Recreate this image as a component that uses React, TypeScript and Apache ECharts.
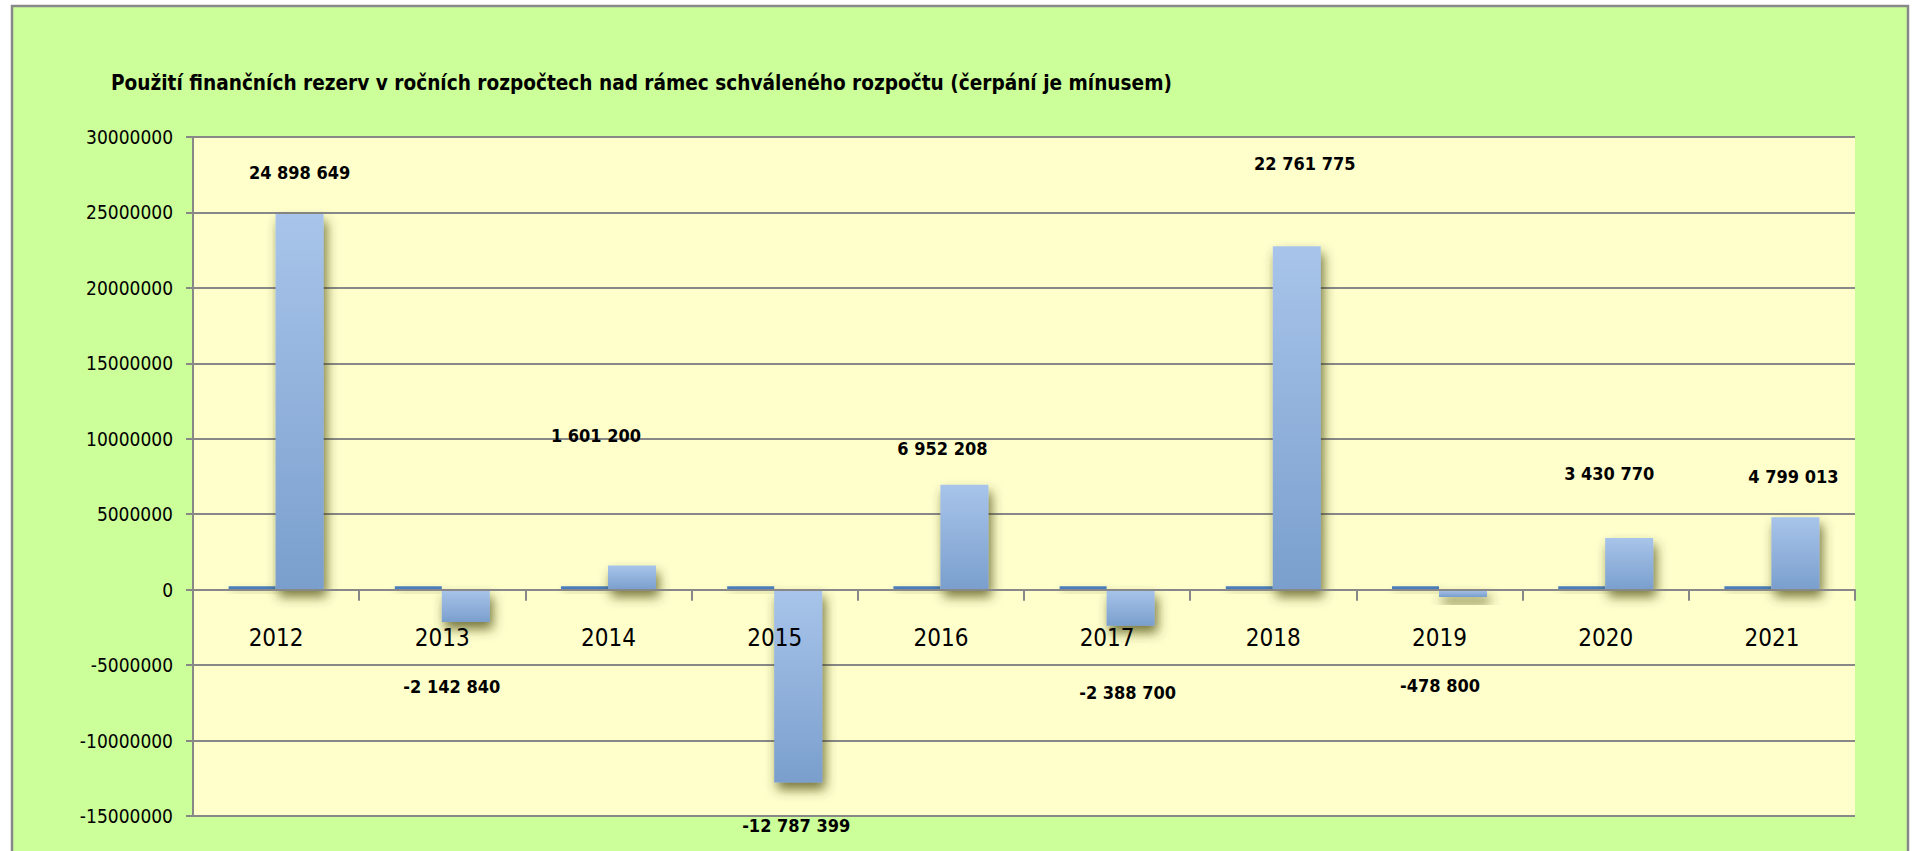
import React, { useEffect, useRef } from "react";
import * as echarts from "echarts";

const titleText =
  "Použití finančních rezerv v ročních rozpočtech nad rámec schváleného rozpočtu (čerpání je mínusem)";
const years = ["2012", "2013", "2014", "2015", "2016", "2017", "2018", "2019", "2020", "2021"];
// thin first series (barely visible next to each main bar)
const baseValues = [230000, 230000, 230000, 230000, 230000, 230000, 230000, 230000, 230000, 230000];
// main series: use of financial reserves
const reserveValues = [24898649, -2142840, 1601200, -12787399, 6952208, -2388700, 22761775, -478800, 3430770, 4799013];
const yMin = -15000000;
const yMax = 30000000;
const yInterval = 5000000;

// label placement tweaks (style only)
const labelOffsets: number[][] = [
  [0, -32], [-14, 56], [-36, -121], [-2, 34], [-22, -27],
  [-3, 58], [8, -74], [-23, 80], [-20, -55], [-2, -32],
];

const FONT = "'DejaVu Sans Condensed', 'DejaVu Sans', sans-serif";

const GRID_TOP = 137;
const GRID_BOTTOM_PX = 816;

function fmtSpace(v: number): string {
  const s = Math.abs(Math.round(v)).toString().replace(/\B(?=(\d{3})+(?!\d))/g, " ");
  return (v < 0 ? "-" : "") + s;
}

export default function App() {
  const ref = useRef<HTMLDivElement>(null);
  useEffect(() => {
    if (!ref.current) return;
    const chart = echarts.init(ref.current, null, { renderer: "svg" });
    const gradient = new echarts.graphic.LinearGradient(0, 0, 0, 1, [
      { offset: 0, color: "#A8C4EA" },
      { offset: 1, color: "#7A9FCD" },
    ]);
    // move the category axis up to the zero line
    const zeroFromBottom = ((0 - yMin) / (yMax - yMin)) * (GRID_BOTTOM_PX - GRID_TOP);
    chart.setOption({
      animation: false,
      backgroundColor: "#FFFFFF",
      graphic: [
        {
          type: "rect",
          z: -10,
          silent: true,
          shape: { x: 12, y: 6, width: 1896, height: 900 },
          style: { fill: "#CCFF99", stroke: "#898989", lineWidth: 2.5 },
        },
      ],
      title: {
        text: titleText,
        left: 106,
        top: 67,
        textStyle: { fontFamily: FONT, fontSize: 20.6, fontWeight: "bold", color: "#000" },
      },
      grid: {
        left: 193,
        right: 57,
        top: GRID_TOP,
        bottom: 851 - GRID_BOTTOM_PX,
        show: true,
        backgroundColor: "#FFFFCC",
        borderWidth: 0,
        containLabel: false,
        outerBoundsMode: "none",
      },
      xAxis: {
        type: "category",
        data: years,
        z: 5,
        offset: -zeroFromBottom,
        axisLine: { onZero: false, lineStyle: { color: "#888888", width: 2 } },
        axisTick: { show: true, length: 11, lineStyle: { color: "#888888", width: 2 } },
        axisLabel: { fontFamily: FONT, fontSize: 24, color: "#000", margin: 36 },
        splitLine: { show: false },
      },
      yAxis: {
        type: "value",
        min: yMin,
        max: yMax,
        interval: yInterval,
        axisLine: { show: true, lineStyle: { color: "#888888", width: 2 } },
        axisTick: { show: true, length: 7, lineStyle: { color: "#888888", width: 2 } },
        axisLabel: {
          fontFamily: FONT,
          fontSize: 19,
          color: "#000",
          margin: 20,
          formatter: (v: number) => String(v),
        },
        splitLine: { show: true, lineStyle: { color: "#888888", width: 2 } },
      },
      series: [
        {
          type: "bar",
          name: "base",
          data: baseValues,
          barWidth: 47,
          barGap: "0%",
          itemStyle: {
            color: "#4A7EBB",
            shadowColor: "rgba(80,80,0,0.35)",
            shadowBlur: 10,
            shadowOffsetX: 2,
            shadowOffsetY: 5,
          },
        },
        {
          type: "bar",
          name: "reserve",
          barWidth: 48,
          barGap: "0%",
          data: reserveValues.map((v, i) => ({
            value: v,
            label: {
              show: true,
              position: v >= 0 ? "top" : "bottom",
              distance: 0,
              offset: labelOffsets[i],
            },
          })),
          itemStyle: {
            color: gradient,
            shadowColor: "rgba(60,60,0,0.7)",
            shadowBlur: 12,
            shadowOffsetX: 3,
            shadowOffsetY: 7,
          },
          label: {
            show: true,
            fontFamily: FONT,
            fontSize: 18,
            fontWeight: "bold",
            color: "#000",
            formatter: (p: any) => fmtSpace(p.value),
          },
        },
      ],
    });
    return () => chart.dispose();
  }, []);
  return (
    <div
      ref={ref}
      style={{ position: "fixed", left: 0, top: 0, width: 1912, height: 851 }}
    />
  );
}
